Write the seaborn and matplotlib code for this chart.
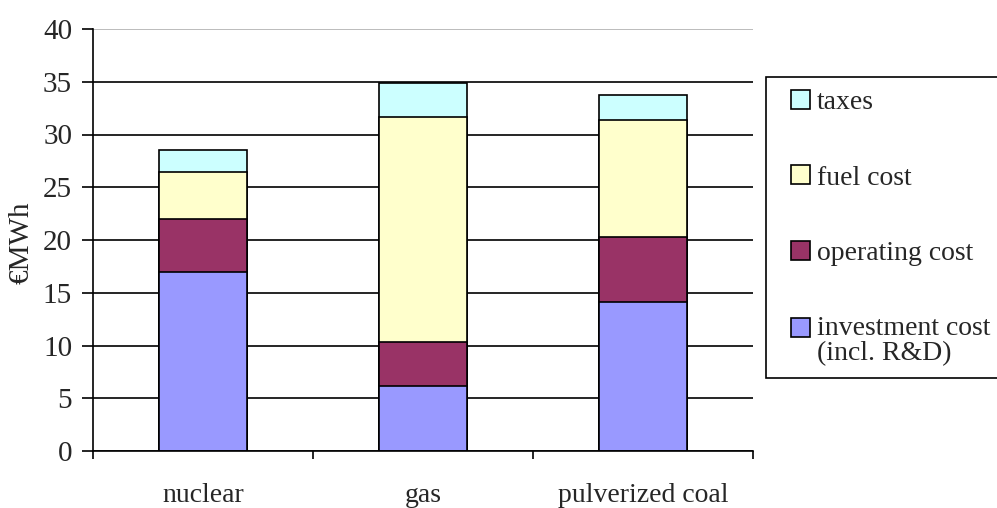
import numpy as np
import matplotlib
matplotlib.use("Agg")
import matplotlib.pyplot as plt
from matplotlib.patches import Patch, Rectangle
from matplotlib.legend_handler import HandlerPatch
import seaborn as sns

# Dane (EUR/MWh)
technologie = ["nuclear", "gas", "pulverized coal"]
inwestycje = [17.0, 6.2, 14.1]
eksploatacja = [5.0, 4.1, 6.2]
paliwo = [4.4, 21.4, 11.1]
podatki = [2.1, 3.2, 2.3]

skladniki = ["investment cost\n(incl. R&D)", "operating cost", "fuel cost", "taxes"]
kolory = ["#9999FF", "#993366", "#FFFFCC", "#CCFFFF"]


class UchwytPierwszaLinia(HandlerPatch):
    """
    Kwadracik legendy wyrownany do pierwszej linii etykiety dwuliniowej.
    """
    def __init__(self, przesuniecie, **kw):
        super().__init__(**kw)
        self.przesuniecie = przesuniecie

    def create_artists(self, legend, orig_handle, xdescent, ydescent,
                       width, height, fontsize, trans):
        p = Rectangle((-xdescent, -ydescent + self.przesuniecie), width, height,
                      facecolor=orig_handle.get_facecolor(),
                      edgecolor="black", linewidth=1.2, transform=trans)
        return [p]


sns.set_style("white")
plt.rcParams["font.family"] = ["Liberation Serif", "DejaVu Serif"]

fig = plt.figure(figsize=(9.97, 5.08), dpi=100)
ax = fig.add_axes([93 / 997, 1 - 451 / 508, 660 / 997, 422 / 508])

# Slupki skumulowane: rysowane od najwyzszej sumy w dol
sumy = np.cumsum(np.array([inwestycje, eksploatacja, paliwo, podatki]), axis=0)
for i in range(len(skladniki) - 1, -1, -1):
    sns.barplot(x=technologie, y=sumy[i], color=kolory[i], width=0.4,
                edgecolor="black", linewidth=1.2, saturation=1, ax=ax, zorder=2)

ax.set_ylim(0, 40)
ax.set_xlim(-0.5, 2.5)
ax.set_yticks(np.arange(0, 41, 5))
ax.yaxis.grid(True, color="black", linewidth=1.2)
ax.set_axisbelow(True)
ax.get_ygridlines()[-1].set_color("#b0b0b0")

for s in ["top", "right"]:
    ax.spines[s].set_visible(False)
for s in ["left", "bottom"]:
    ax.spines[s].set_color("black")
    ax.spines[s].set_linewidth(1.2)

ax.tick_params(axis="y", direction="out", length=8, width=1.2, color="black",
               left=True, labelsize=21, pad=7)
ax.tick_params(axis="x", which="major", length=0, labelsize=20, pad=23)
ax.set_xticks([-0.5, 0.5, 1.5, 2.5], minor=True)
ax.tick_params(axis="x", which="minor", direction="out", length=6, width=1.2,
               color="black", bottom=True)

ax.set_ylabel("€MWh", fontsize=21)
ax.yaxis.set_label_coords(-0.088, 0.493)
ax.set_xlabel("")

# Ramka legendy (wychodzi poza prawa krawedz)
fig.patches.append(Rectangle((766 / 997, 1 - 378 / 508), 0.3, 301 / 508,
                             transform=fig.transFigure, facecolor="white",
                             edgecolor="black", linewidth=1.2, zorder=0))

uchwyty = [Patch(facecolor=k, edgecolor="black", linewidth=1.2) for k in kolory]
leg = fig.legend(uchwyty[::-1], skladniki[::-1], loc="upper left",
                 bbox_to_anchor=(791 / 997, 1 - 90 / 508), fontsize=20,
                 frameon=False, handlelength=0.68, handleheight=0.68,
                 handletextpad=0.25, labelspacing=1.8, borderpad=0,
                 borderaxespad=0,
                 handler_map={uchwyty[0]: UchwytPierwszaLinia(9.5)})
leg.get_texts()[-1].set_linespacing(1.0)

fig.savefig("out.png", dpi=100)
